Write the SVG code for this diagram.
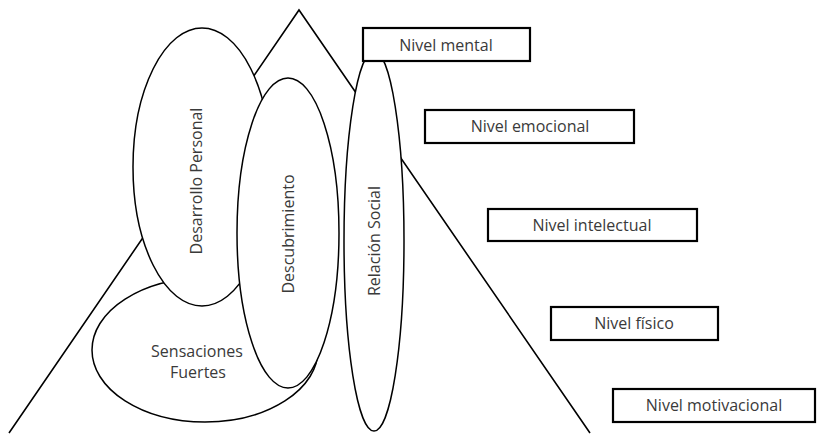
<svg xmlns="http://www.w3.org/2000/svg" width="818" height="435" viewBox="0 0 818 435">
  <style>
    .line { fill: none; stroke: #000; stroke-width: 1.6; }
    .oval { fill: #fff; stroke: #000; stroke-width: 1.5; }
    .box { fill: #fff; stroke: #000; stroke-width: 2.2; }
    .lbl { font-family: "Open Sans", "Noto Sans", sans-serif; font-size: 16px; fill: #3a3a3a; text-anchor: middle; }
  </style>
  <rect width="818" height="435" fill="#fff"/>

  <!-- pyramid outline -->
  <g id="pyramid">
    <polyline class="line" points="9,433 299,10 590,433"/>
  </g>

  <!-- overlapping areas -->
  <g id="sensaciones">
    <ellipse class="oval" cx="205" cy="350" rx="113" ry="72"/>
    <text class="lbl" x="197" y="357">Sensaciones</text>
    <text class="lbl" x="198" y="378">Fuertes</text>
  </g>
  <g id="desarrollo">
    <ellipse class="oval" cx="202" cy="167" rx="69" ry="139"/>
    <text class="lbl" transform="translate(202,181) rotate(-90)">Desarrollo Personal</text>
  </g>
  <g id="descubrimiento">
    <ellipse class="oval" cx="288" cy="233" rx="51" ry="155"/>
    <text class="lbl" transform="translate(294,234) rotate(-90)">Descubrimiento</text>
  </g>
  <g id="relacion">
    <ellipse class="oval" cx="374" cy="241" rx="30" ry="190"/>
    <text class="lbl" transform="translate(380,241) rotate(-90)">Relación Social</text>
  </g>

  <!-- levels -->
  <g id="nivel-mental">
    <rect class="box" x="363" y="28" width="167" height="33"/>
    <text class="lbl" x="446" y="51">Nivel mental</text>
  </g>
  <g id="nivel-emocional">
    <rect class="box" x="425" y="110" width="209" height="33"/>
    <text class="lbl" x="530" y="132">Nivel emocional</text>
  </g>
  <g id="nivel-intelectual">
    <rect class="box" x="488" y="209" width="209" height="32"/>
    <text class="lbl" x="592" y="231">Nivel intelectual</text>
  </g>
  <g id="nivel-fisico">
    <rect class="box" x="551" y="307" width="167" height="33"/>
    <text class="lbl" x="634" y="329">Nivel físico</text>
  </g>
  <g id="nivel-motivacional">
    <rect class="box" x="613" y="389" width="202" height="33"/>
    <text class="lbl" x="714" y="411">Nivel motivacional</text>
  </g>
</svg>
